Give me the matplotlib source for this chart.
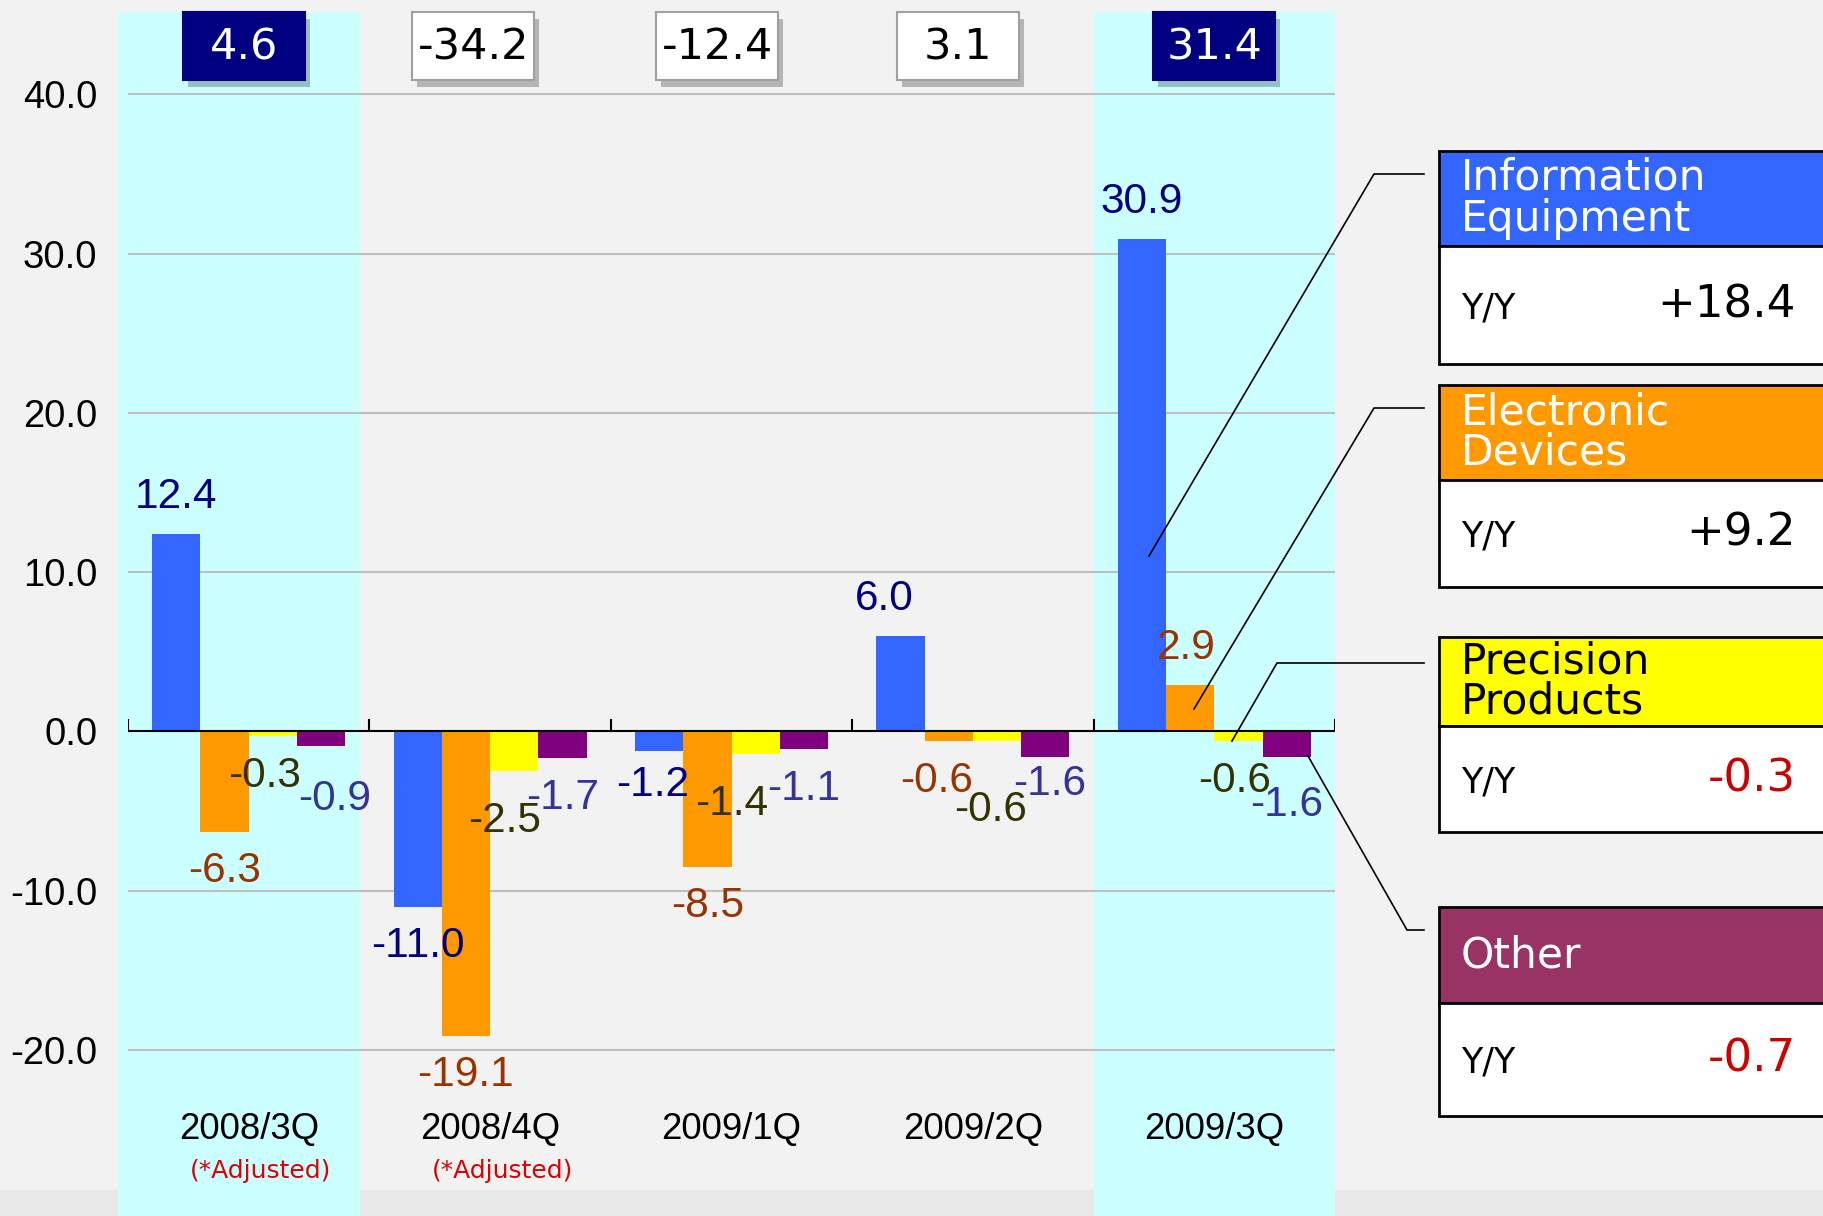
import numpy as np
import matplotlib.pyplot as plt
from matplotlib.patches import Rectangle
from matplotlib.lines import Line2D
from matplotlib.transforms import blended_transform_factory

plt.rcParams['font.family'] = ['Liberation Sans', 'DejaVu Sans']

quarters = ['2008/3Q', '2008/4Q', '2009/1Q', '2009/2Q', '2009/3Q']
adjusted = [True, True, False, False, False]
highlight = [True, False, False, False, True]
totals = [4.6, -34.2, -12.4, 3.1, 31.4]
info_eq = [12.4, -11.0, -1.2, 6.0, 30.9]
elec_dev = [-6.3, -19.1, -8.5, -0.6, 2.9]
prec_prod = [-0.3, -2.5, -1.4, -0.6, -0.6]
other = [-0.9, -1.7, -1.1, -1.6, -1.6]
segments = [['Information', 'Equipment'], ['Electronic', 'Devices'],
            ['Precision', 'Products'], ['Other']]
yoy = ['+18.4', '+9.2', '-0.3', '-0.7']

bar_colors = ['#3366ff', '#ff9900', '#ffff00', '#800080']
lab_colors = ['#000080', '#993300', '#333300', '#333399']
head_colors = ['#3366ff', '#ff9900', '#ffff00', '#993366']
head_text = ['white', 'white', 'black', 'white']
yoy_colors = ['black', 'black', '#cc0000', '#cc0000']

W, H = 1823, 1216
def fx(x): return x / W
def fy(y): return 1 - y / H

fig = plt.figure(figsize=(W / 100, H / 100), dpi=100, facecolor='#f2f2f2')
fig.add_artist(Rectangle((0, 0), 1, fy(1190), transform=fig.transFigure,
                         color='#e8e8e8', zorder=0))

ax = fig.add_axes([fx(128), 0, (1335 - 128) / W, (H - 12) / H])
ax.set_facecolor('none')
ax.set_xlim(-0.5, 4.5)
ax.set_ylim(-30.42, 45.16)
for s in ax.spines.values():
    s.set_visible(False)

# highlighted quarters
band_shift = [-0.04, 0, 0, 0, 0]
for i, h in enumerate(highlight):
    if h:
        ax.axvspan(i - 0.5 + band_shift[i], i + 0.5 + band_shift[i], color='#ccffff',
                   zorder=0, lw=0, clip_on=False)

for v in [-20, -10, 10, 20, 30, 40]:
    ax.axhline(v, color='#c0c0c0', lw=1.5, zorder=1)
ax.axhline(0, color='black', lw=1.5, zorder=4)
ax.vlines(np.arange(-0.5, 5, 1), 0, 0.75, color='black', lw=1.5, zorder=4)

ax.set_xticks([])
yt = [-20, -10, 0, 10, 20, 30, 40]
ax.set_yticks(yt)
ax.set_yticklabels([f'{v:.1f}' for v in yt], fontsize=27.5)
ax.tick_params(axis='y', length=0, pad=22)

x = np.arange(len(quarters))
series = [info_eq, elec_dev, prec_prod, other]
# small label nudges (points) where labels were shifted to avoid overlap
nudge = {(0, 2): (-6, 0), (0, 3): (10, -10), (1, 2): (-7, -7), (2, 0): (-5, 4),
         (2, 2): (-17, -8), (3, 0): (-12, 0), (3, 1): (-9, 0), (3, 2): (-5, -21),
         (3, 3): (3, 9), (4, 1): (-3, 0), (4, 2): (-3, 0), (4, 3): (0, -6)}
for k, vals in enumerate(series):
    xp = x + (k - 1.5) * 0.2
    ax.bar(xp, vals, 0.2, color=bar_colors[k], zorder=3)
    for i, v in enumerate(vals):
        dx, dy = nudge.get((i, k), (0, 0))
        base = 26.5 if v > 0 else -28.5
        ax.annotate(f'{v:.1f}', (xp[i], v), xytext=(dx, base + dy),
                    textcoords='offset points', ha='center', va='center',
                    fontsize=30.5, color=lab_colors[k], zorder=5)

for i, q in enumerate(quarters):
    ax.text(i, -24.96, q, ha='center', va='center', fontsize=26.3)
    if adjusted[i]:
        ax.text(i + 0.05, -27.6, '(*Adjusted)', ha='center', va='center',
                fontsize=18, color='#dd0000', family='DejaVu Sans')

# total boxes on top
trans = blended_transform_factory(ax.transData, fig.transFigure)
box_x = [-0.02, -0.07, -0.06, -0.06, 0.0]
bw = 122 / 241.5
for i, t in enumerate(totals):
    c = i + box_x[i]
    ax.add_artist(Rectangle((c - bw / 2 + 5 / 241.5, fy(87)), bw, 68 / H, transform=trans,
                            color='black', alpha=0.25, lw=0, clip_on=False, zorder=5))
    if highlight[i]:
        fc, ec, tc = '#000080', '#000080', 'white'
    else:
        fc, ec, tc = 'white', '#a0a0a0', 'black'
    ax.add_artist(Rectangle((c - bw / 2, fy(80)), bw, 68 / H, transform=trans,
                            fc=fc, ec=ec, lw=1.5, clip_on=False, zorder=6))
    ax.text(c, fy(47), f'{t:.1f}', transform=trans, ha='center', va='center',
            fontsize=31, color=tc, family='DejaVu Sans', zorder=7)

# segment boxes on the right
tops = [151, 385, 637, 907]
mids = [246, 480, 726, 1003]
bots = [364, 587, 832, 1116]
for k in range(4):
    fig.add_artist(Rectangle((fx(1439), fy(mids[k])), (W + 10 - 1439) / W, (mids[k] - tops[k]) / H,
                             transform=fig.transFigure, fc=head_colors[k], ec='black', lw=2, zorder=6))
    fig.add_artist(Rectangle((fx(1439), fy(bots[k])), (W + 10 - 1439) / W, (bots[k] - mids[k]) / H,
                             transform=fig.transFigure, fc='white', ec='black', lw=2, zorder=6))
    lines = segments[k]
    cy = (tops[k] + mids[k]) / 2
    for j, ln in enumerate(lines):
        yy = cy + (j - (len(lines) - 1) / 2) * 41
        fig.text(fx(1461), fy(yy), ln, ha='left', va='center', fontsize=30.5,
                 color=head_text[k], family='DejaVu Sans', zorder=7)
    vy = (mids[k] + bots[k]) / 2
    fig.text(fx(1461), fy(vy + 3), 'Y/Y', ha='left', va='center', fontsize=25,
             family='DejaVu Sans', zorder=7)
    fig.text(fx(1796), fy(vy), yoy[k], ha='right', va='center', fontsize=32.5,
             color=yoy_colors[k], family='DejaVu Sans', zorder=7)

# leader lines
leaders = [[(1149, 556), (1374, 174), (1424, 174)],
           [(1194, 709), (1374, 408), (1424, 408)],
           [(1232, 741), (1277, 663), (1424, 663)],
           [(1308, 756), (1407, 930), (1424, 930)]]
for pts in leaders:
    xs = [fx(p[0]) for p in pts]
    ys = [fy(p[1]) for p in pts]
    fig.add_artist(Line2D(xs, ys, transform=fig.transFigure, color='black', lw=1.2, zorder=8))

fig.savefig('out.png', dpi=100, facecolor=fig.get_facecolor())
